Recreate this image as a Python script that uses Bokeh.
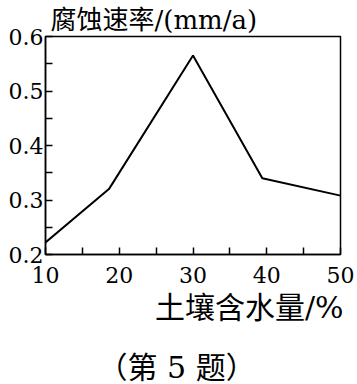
from bokeh.plotting import figure
from bokeh.models import Range1d, FixedTicker, Title, LinearAxis
from bokeh.embed import file_html
from bokeh.resources import INLINE

# data
moisture = [10, 18.6, 30, 39.4, 50]
rate = [0.222, 0.32, 0.565, 0.34, 0.308]
x_ticks = [10, 20, 30, 40, 50]
x_minor = [15, 25, 35, 45]
y_ticks = [0.2, 0.3, 0.4, 0.5, 0.6]
y_minor = [0.25, 0.35, 0.45, 0.55]
y_title = "腐蚀速率/(mm/a)"
x_title = "土壤含水量/%"
caption = "（第 5 题）"

FONT = "DejaVu Serif, Noto Sans CJK SC"

p = figure(width=357, height=384, output_backend="svg", toolbar_location=None,
           x_range=Range1d(10, 50), y_range=Range1d(0.2, 0.6),
           min_border_left=45, min_border_right=17, min_border_top=35, min_border_bottom=130)
p.background_fill_color = "white"
p.border_fill_color = "white"
p.grid.visible = False
p.outline_line_color = "black"
p.outline_line_width = 1.5

p.line(moisture, rate, line_color="black", line_width=2)

for ax in (p.xaxis[0], p.yaxis[0]):
    ax.axis_line_width = 1.5
    ax.major_tick_in = 7
    ax.major_tick_out = 0
    ax.minor_tick_in = 7
    ax.minor_tick_out = 0
    ax.major_tick_line_width = 1.5
    ax.minor_tick_line_width = 1.5
    ax.major_label_text_font = FONT
    ax.major_label_text_font_size = "22px"
    ax.major_label_text_color = "black"

p.xaxis[0].ticker = FixedTicker(ticks=x_ticks, minor_ticks=x_minor)
p.yaxis[0].ticker = FixedTicker(ticks=y_ticks, minor_ticks=y_minor)
p.xaxis[0].major_label_standoff = 12
p.yaxis[0].major_label_standoff = 2
p.xaxis.major_label_overrides = {t: str(t) for t in x_ticks}
p.yaxis.major_label_overrides = {t: f"{t:.1f}" for t in y_ticks}

p.add_layout(Title(text=y_title, text_font=FONT, text_font_size="26px", align="left",
                   offset=5, standoff=4, text_font_style="normal", text_color="black"), "above")
p.add_layout(Title(text=x_title, text_font=FONT, text_font_size="30px", align="right",
                   vertical_align="top", offset=-3, standoff=8,
                   text_font_style="normal", text_color="black"), "below")

# invisible spacer between the x title and the caption
spacer = LinearAxis(ticker=FixedTicker(ticks=[x_ticks[0]], minor_ticks=[]), axis_line_alpha=0,
                    major_tick_out=17, major_tick_in=0, minor_tick_out=0, minor_tick_in=0,
                    major_tick_line_alpha=0, minor_tick_line_alpha=0, major_label_standoff=0,
                    major_label_overrides={x_ticks[0]: ""})
p.add_layout(spacer, "below")

p.add_layout(Title(text=caption, text_font=FONT, text_font_size="30px", align="left",
                   vertical_align="bottom", offset=52, standoff=0,
                   text_font_style="normal", text_color="black"), "below")

open("out.html", "w").write(file_html(p, INLINE))
